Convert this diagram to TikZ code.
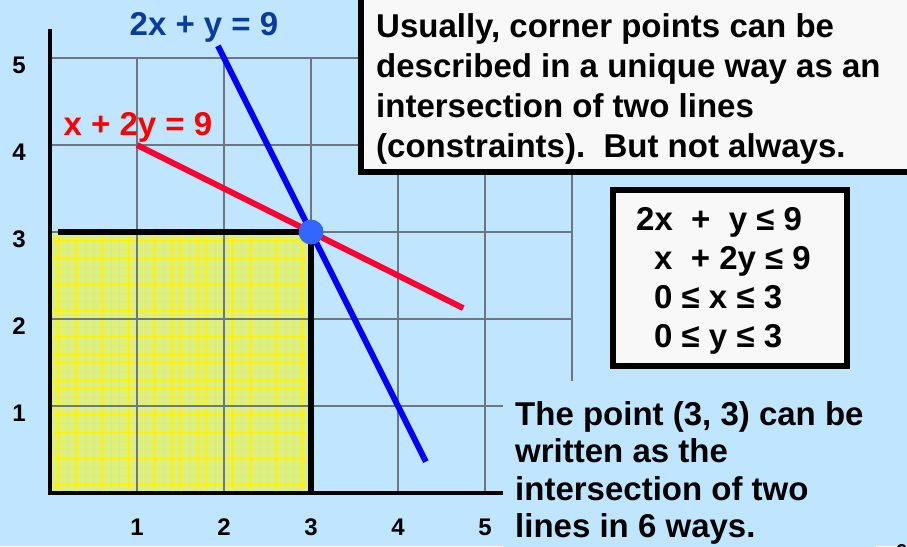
\documentclass[tikz,border=0pt]{standalone}
\usepackage{fontspec}
\setmainfont{Liberation Sans}
\usetikzlibrary{positioning}
\definecolor{lpsky}{HTML}{C0E6FF}
\definecolor{lpyellow}{HTML}{DDEF7F}
\definecolor{lpgrid}{HTML}{6E7780}
\definecolor{lpnavy}{HTML}{0B3B9B}
\definecolor{lpred}{HTML}{FF0033}
\definecolor{lpdot}{HTML}{3366FF}
\definecolor{lppaper}{HTML}{F8F8F8}

\begin{document}
\begin{tikzpicture}[x=1pt, y=-1pt,
    txt/.style={font=\bfseries\fontsize{33}{40}\selectfont, align=left, inner sep=0pt},
    tick/.style={font=\bfseries\fontsize{24}{28}\selectfont, inner sep=0pt},
    frame/.style={draw=black, line width=6pt, fill=lppaper},
    gridline/.style={lpgrid, line width=1.2pt},
    axis/.style={line width=4pt},
    bound/.style={line width=5.5pt},
    eqline/.style={line width=6pt}]

  \useasboundingbox (0,0) rectangle (907,546);
  \fill[lpsky] (0,0) rectangle (907,546);

  \begin{scope}[shift={(50,493)}, x=87pt, y=87pt]
    \fill[lpyellow] (0,0) rectangle (3,3);
    \draw[yellow, line width=0.5pt, step=8.7pt] (0,0) grid (3,3);
    \draw[gridline, step=1] (0,0) grid (6,5);
    \draw[axis] (0,5.33) -- (0,0) -- (6,0);
    \draw[bound] (0.09,3) -- (3,3) -- (3,0);
    \coordinate (redstart) at (1,4);
    \coordinate (redend) at (4.75,2.125);
    \coordinate (bluestart) at (1.93,5.14);
    \coordinate (blueend) at (4.32,0.36);
    \draw[eqline, lpred] (redstart) -- (redend);
    \draw[eqline, blue] (bluestart) -- (blueend);
    \node[circle, fill=lpdot, minimum size=25pt, inner sep=0pt] (corner) at (3,3) {};
  \end{scope}

  \foreach \n in {1,...,5} {
    \node[tick, anchor=base] (ylab\n) at (19, 508-87*\n) {\n};
    \node[tick, anchor=base] (xlab\n) at (50+87*\n, 535) {\n};
  }

  \node[txt, text=lpnavy, anchor=base] (blueeq) at (204,35) {2x + y = 9};
  \node[txt, text=red, anchor=base] (redeq) at (138,135) {x + 2y = 9};

  \draw[frame] (361,-10) rectangle (915,172);
  \node[txt, anchor=base west] (note) at (376,157)
    {Usually, corner points can be\\described in a unique way as an\\intersection of two lines\\(constraints).\ \ But not always.};

  \draw[frame] (613,190) rectangle (847,366);
  \node[txt, font=\bfseries\fontsize{33}{39}\selectfont, anchor=base west] (cons) at (636,347)
    {2x\ \ +\ \ y ≤ 9\\\hspace*{18pt}x\ \ + 2y ≤ 9\\\hspace*{18pt}0 ≤ x ≤ 3\\\hspace*{18pt}0 ≤ y ≤ 3};

  \node[txt, font=\bfseries\fontsize{33}{37.5}\selectfont, fill=lpsky, inner xsep=12pt, inner ysep=20pt,
        anchor=base west] (claim) at (503,537.5)
    {The point (3, 3) can be\\written as the\\intersection of two\\lines in 6 ways.};

  \node[tick, font=\bfseries\fontsize{20}{24}\selectfont, anchor=base] (slideno) at (902,558) {9};
\end{tikzpicture}
\end{document}
